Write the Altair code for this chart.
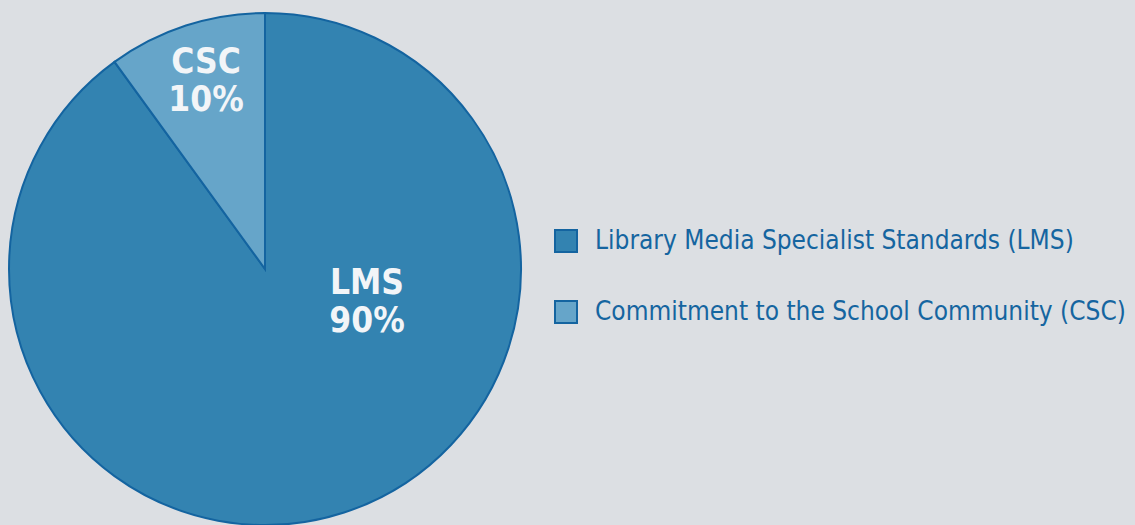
import altair as alt
import pandas as pd

categories = ["Library Media Specialist Standards (LMS)", "Commitment to the School Community (CSC)"]
short = ["LMS", "CSC"]
values = [90, 10]
colors = ["#3383b1", "#66a5c9"]

df = pd.DataFrame({"category": categories, "short": short, "value": values, "order": [0, 1]})

FONT = "'DejaVu Sans Condensed', 'Liberation Sans Narrow', 'DejaVu Sans', sans-serif"
CX, CY, R = 265, 269, 256

pie = alt.Chart(df).mark_arc(
    radius=R, stroke="#1464a0", strokeWidth=2
).encode(
    theta=alt.Theta("value:Q", stack=True),
    order=alt.Order("order:Q"),
    x=alt.value(CX),
    y=alt.value(CY),
    color=alt.Color(
        "category:N",
        scale=alt.Scale(domain=categories, range=colors),
        legend=alt.Legend(
            title=None,
            orient="none",
            legendX=553,
            legendY=228,
            symbolType="square",
            symbolSize=484,
            symbolStrokeColor="#1464a0",
            symbolStrokeWidth=2,
            symbolOpacity=1,
            labelFont=FONT,
            labelFontSize=26,
            labelColor="#1565a0",
            labelLimit=0,
            labelOffset=16,
            rowPadding=41,
        ),
    ),
)

def label_layer(name, xpos, ytop):
    sub = df[df.short == name]
    base = alt.Chart(sub).mark_text(
        font=FONT, fontSize=35, fontWeight="bold", color="#f2f5f8",
        align="center", baseline="middle",
    )
    top = base.encode(x=alt.value(xpos), y=alt.value(ytop), text=alt.Text("short:N"))
    bot = base.encode(x=alt.value(xpos), y=alt.value(ytop + 38), text=alt.Text("pct:N")).transform_calculate(
        pct="datum.value + '%'"
    )
    return top + bot

chart = alt.layer(pie, label_layer("LMS", 367, 283), label_layer("CSC", 206, 62)).properties(
    width=1135, height=525, background="#dcdfe3", padding=0,
    autosize=alt.AutoSizeParams(type="none"),
).configure_view(stroke=None)

chart.save("out.html", embed_options={"renderer": "svg", "actions": False})
